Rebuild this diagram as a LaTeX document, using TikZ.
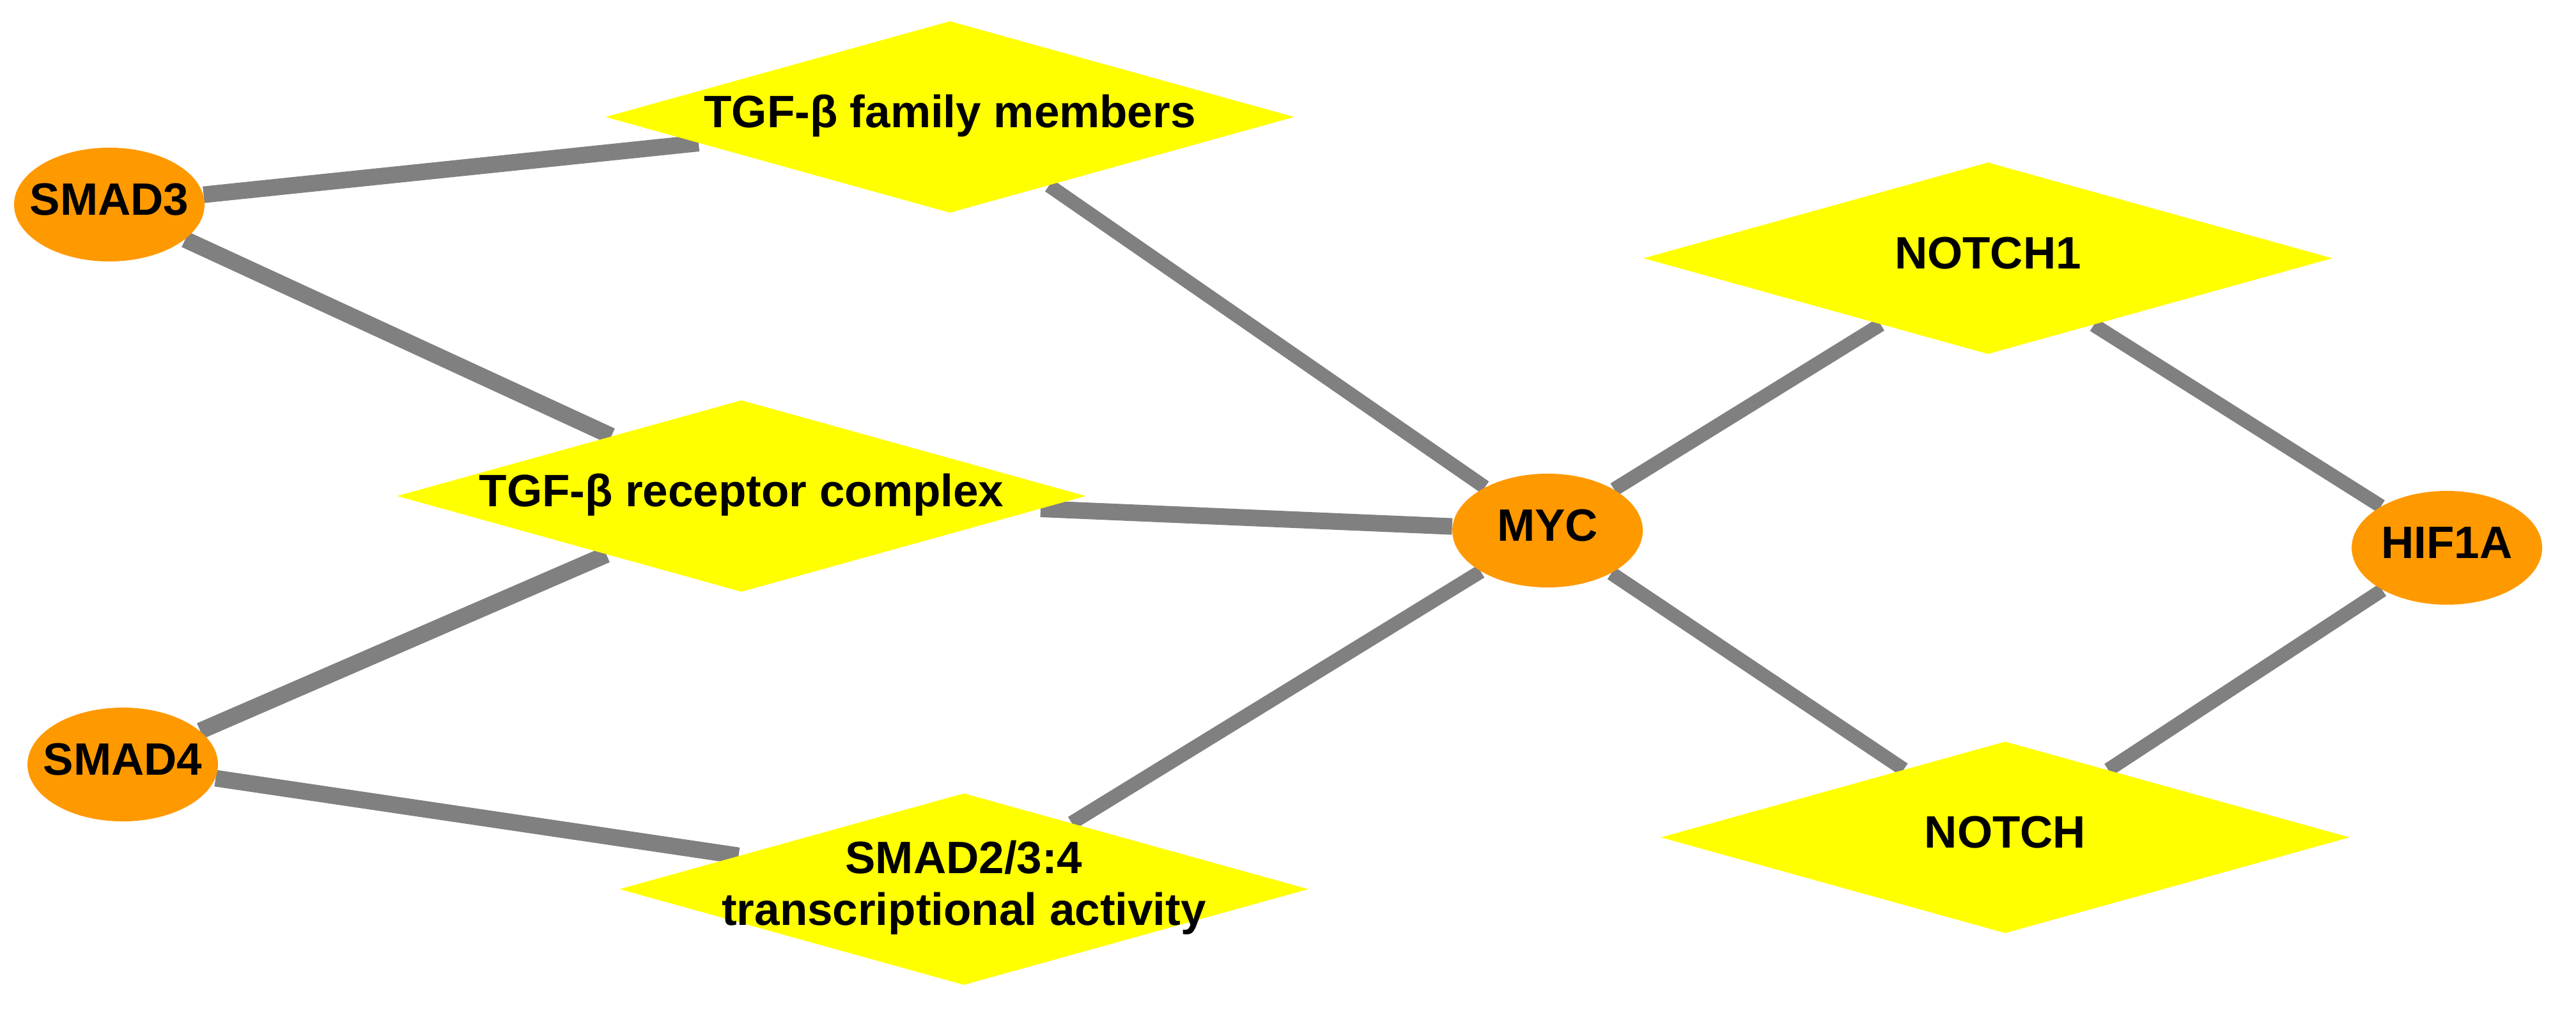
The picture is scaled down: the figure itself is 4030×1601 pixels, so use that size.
\documentclass[tikz,border=0pt]{standalone}
\usepackage{fontspec}
\setmainfont{Liberation Sans}
\usetikzlibrary{shapes.geometric,backgrounds}
\definecolor{nworange}{RGB}{255,153,0}
\definecolor{nwyellow}{RGB}{255,255,0}
\definecolor{nwedge}{RGB}{128,128,128}
\newcommand{\nlab}[1]{\makebox[0pt]{\begin{tabular}{@{}c@{}}#1\end{tabular}}}
\tikzset{
  gene/.style={
    ellipse, fill=nworange, inner sep=0pt,
    minimum width=2.98cm, minimum height=1.78cm
  },
  term/.style={
    diamond, fill=nwyellow, inner sep=0pt,
    minimum width=10.78cm, minimum height=3cm
  },
  link/.style={draw=nwedge, line width=2.2mm},
  wlink/.style={link, line width=2.6mm},
  every picture/.append style={font=\fontsize{20.2pt}{22.8pt}\selectfont\bfseries}
}

\begin{document}
\begin{tikzpicture}[x=0.1mm, y=-0.1mm]
  \useasboundingbox (0,0) rectangle (4030,1601);
  \node[gene] (smad3) at (171,320) {\nlab{SMAD3}};
  \node[gene] (smad4) at (192,1196) {\nlab{SMAD4}};
  \node[gene] (myc) at (2421,830) {\nlab{MYC}};
  \node[gene] (hif) at (3828,857) {\nlab{HIF1A}};
  \node[term] (tgffam) at (1486,183) {\nlab{TGF-β family members}};
  \node[term] (tgfrec) at (1160,776) {\nlab{TGF-β receptor complex}};
  \node[term] (smadtx) at (1508,1391) {\nlab{SMAD2/3:4\\transcriptional activity}};
  \node[term] (notch1) at (3110,404) {\nlab{NOTCH1}};
  \node[term] (notch) at (3137,1310) {\nlab{NOTCH}};
  \begin{scope}[on background layer]
    \foreach \p/\q in {smad3/tgffam,smad3/tgfrec,smad4/tgfrec,smad4/smadtx,tgfrec/myc}
      \draw[wlink] (\p) -- (\q);
    \foreach \p/\q in {tgffam/myc,smadtx/myc,myc/notch1,myc/notch,notch1/hif,notch/hif}
      \draw[link] (\p) -- (\q);
  \end{scope}
\end{tikzpicture}
\end{document}
